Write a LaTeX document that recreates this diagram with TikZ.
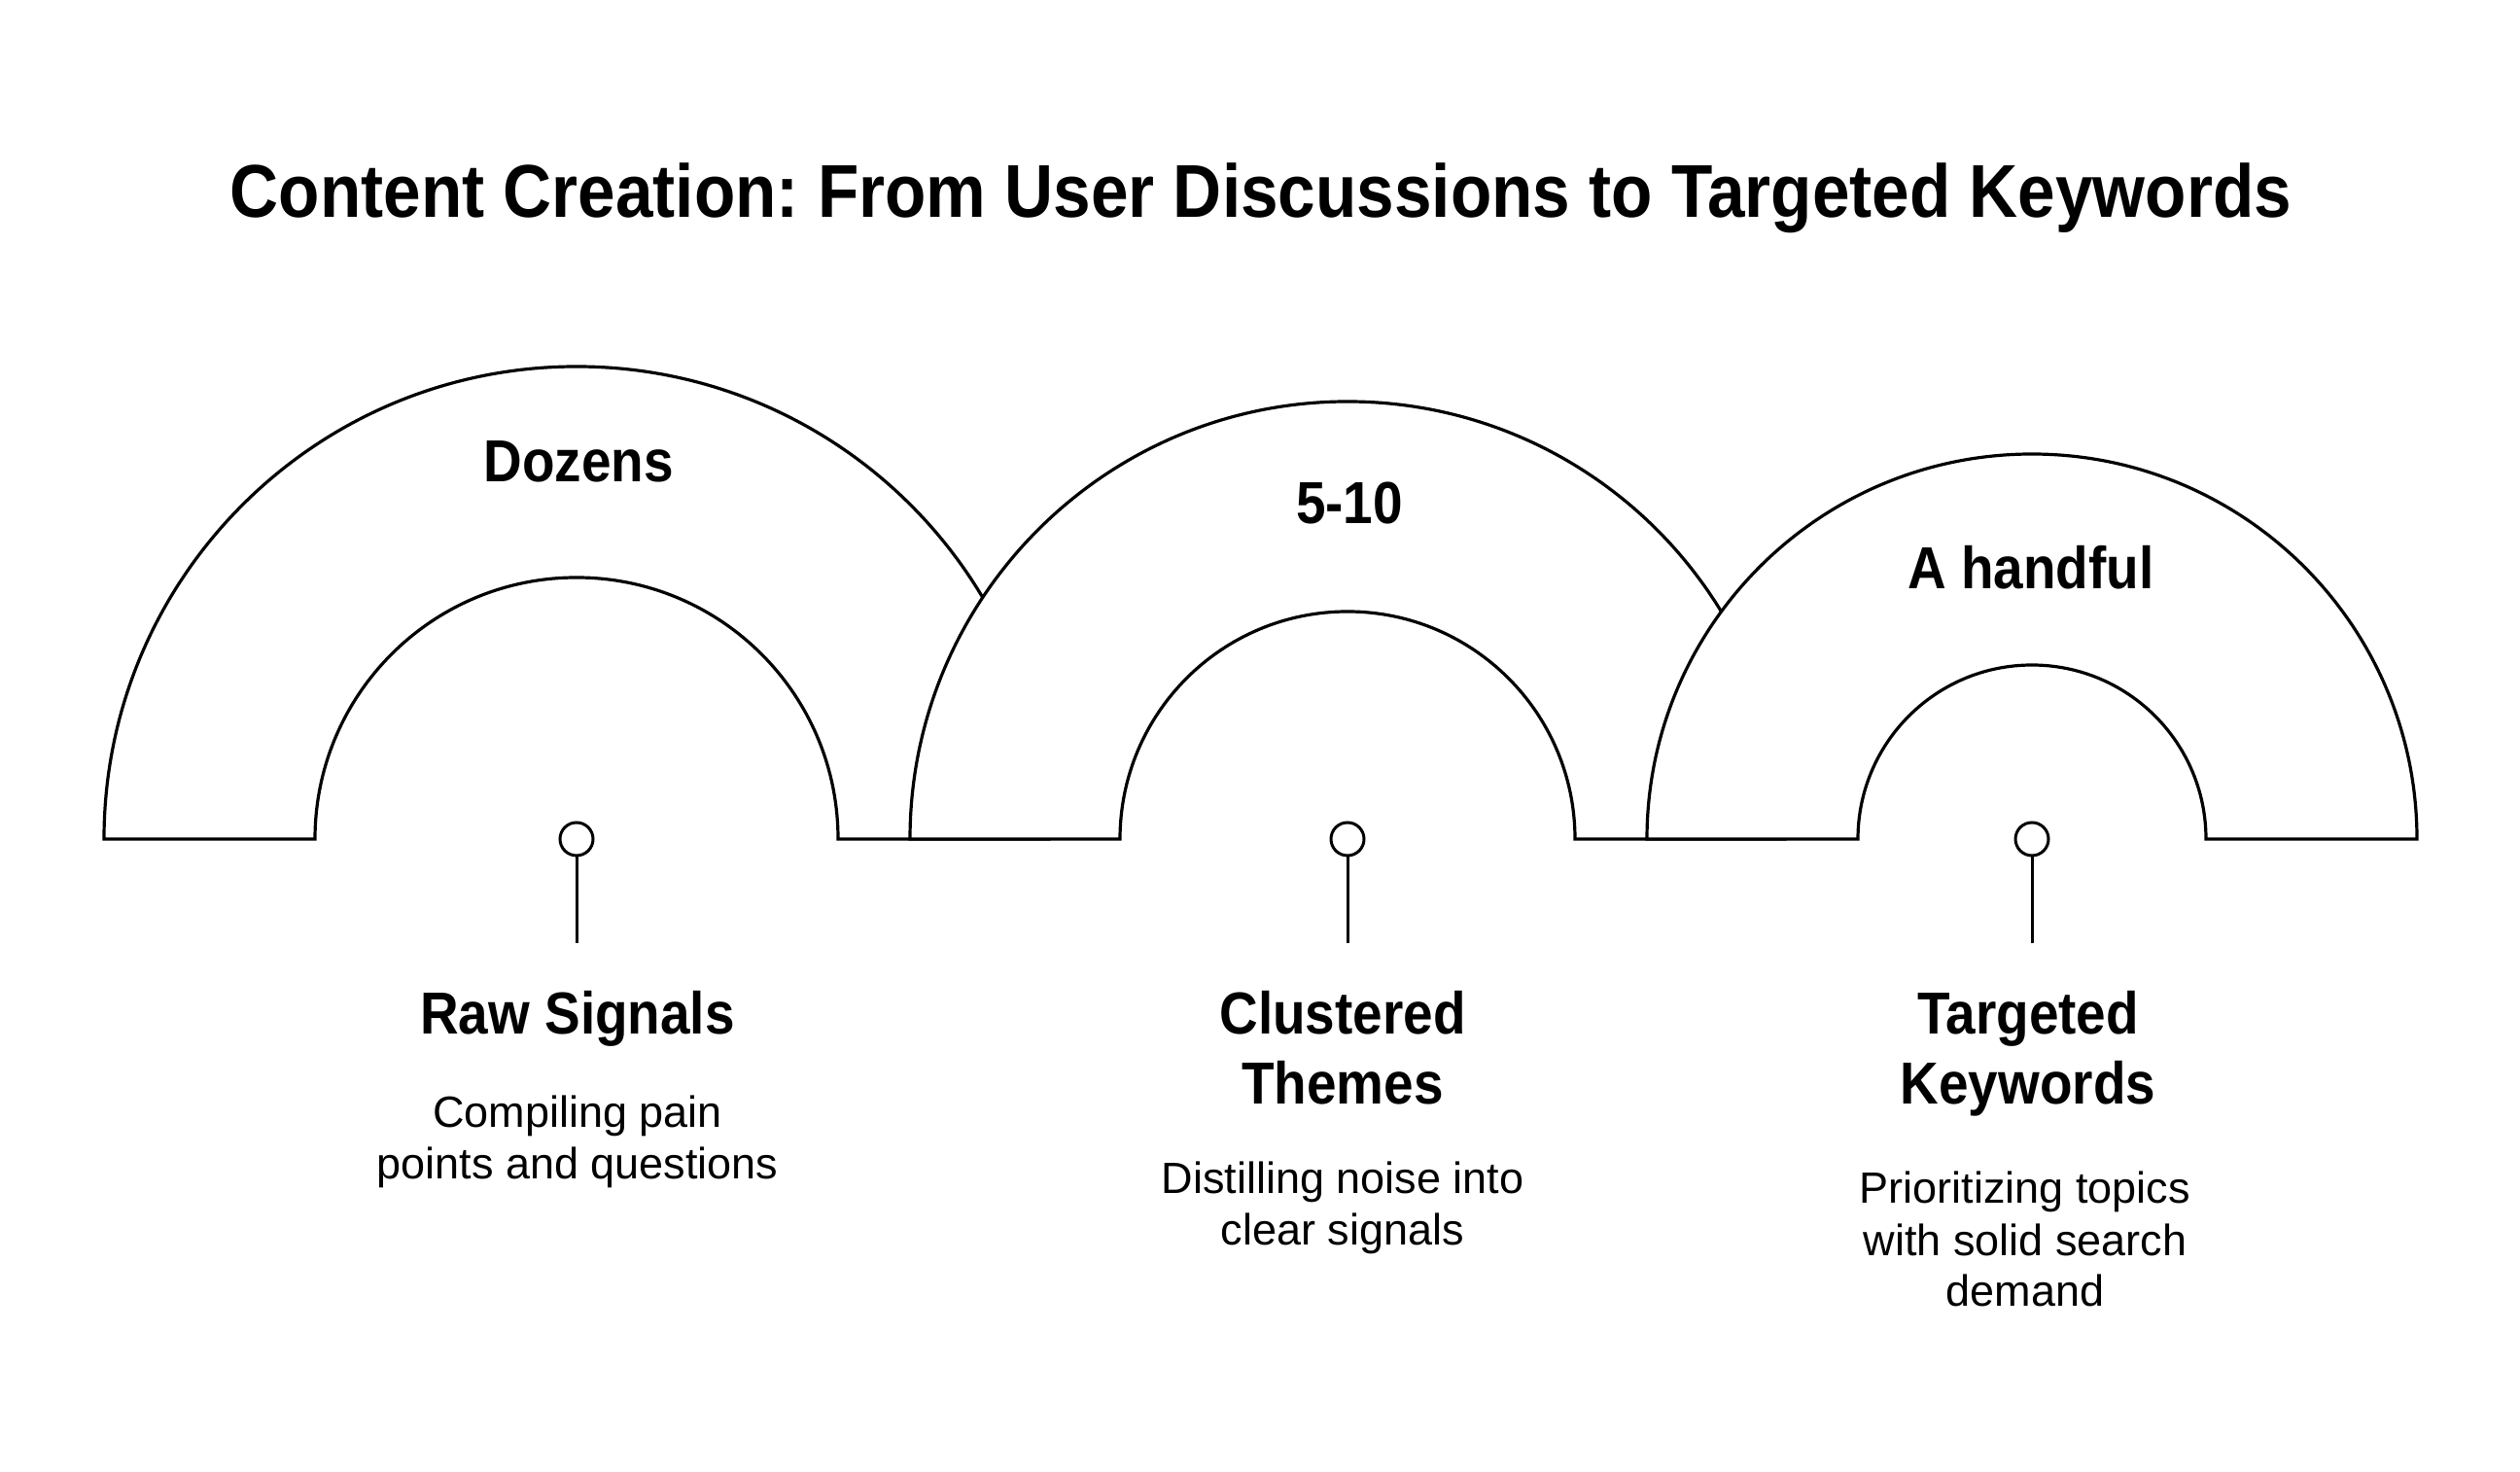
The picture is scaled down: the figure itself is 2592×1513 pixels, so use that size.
\documentclass[tikz,border=0pt]{standalone}
\usepackage{fontspec}
\setmainfont{Liberation Sans}
\newfontfamily\condfont{Liberation Sans}[FakeStretch=0.9]
\frenchspacing
\begin{document}
\begin{tikzpicture}[x=1pt,y=1pt,
  archshape/.style={draw=black,fill=white,line width=3.2pt,line join=miter},
  marker/.style={circle,draw=black,fill=white,line width=3pt,minimum size=34pt,inner sep=0pt},
  stem/.style={draw=black,line width=3pt},
  titletext/.style={anchor=base,inner sep=0pt,font=\condfont\bfseries\fontsize{77}{90}\selectfont},
  headtext/.style={anchor=base,inner sep=0pt,font=\condfont\bfseries\fontsize{61}{72}\selectfont},
  bodytext/.style={anchor=base,inner sep=0pt,font=\fontsize{45}{53}\selectfont}]
\useasboundingbox[fill=white] (0,0) rectangle (2592,1513);

% arches (baseline at y=650)
\draw[archshape] (107,650) arc (180:0:486) -- (862,650) arc (0:180:269) -- cycle;
\draw[archshape] (936,650) arc (180:0:450) -- (1620,650) arc (0:180:234) -- cycle;
\draw[archshape] (1694,650) arc (180:0:396) -- (2269,650) arc (0:180:179) -- cycle;

% title
\node[titletext] (title) at (1297,1289) {\frenchspacing Content Creation: From User Discussions to Targeted Keywords};

% arch labels
\node[headtext] (q1) at (595,1017) {Dozens};
\node[headtext] (q2) at (1388,974) {5-10};
\node[headtext] (q3) at (2089,907) {A handful};

% markers and stems
\node[marker] (m1) at (593,650) {};
\node[marker] (m2) at (1386,650) {};
\node[marker] (m3) at (2090,650) {};
\coordinate (e1) at (593,543);
\coordinate (e2) at (1386,543);
\coordinate (e3) at (2090,543);
\draw[stem] (m1.south) -- (e1);
\draw[stem] (m2.south) -- (e2);
\draw[stem] (m3.south) -- (e3);

% stage 1
\node[headtext] (h1) at (594,449) {Raw Signals};
\node[bodytext] (b1a) at (594,353) {Compiling pain};
\node[bodytext] (b1b) at (594,300) {points and questions};

% stage 2
\node[headtext] (h2a) at (1381,449) {Clustered};
\node[headtext] (h2b) at (1381,377) {Themes};
\node[bodytext] (b2a) at (1381,285) {Distilling noise into};
\node[bodytext] (b2b) at (1381,232) {clear signals};

% stage 3
\node[headtext] (h3a) at (2086,449) {Targeted};
\node[headtext] (h3b) at (2086,377) {Keywords};
\node[bodytext] (b3a) at (2083,275) {Prioritizing topics};
\node[bodytext] (b3b) at (2083,221) {with solid search};
\node[bodytext] (b3c) at (2083,169) {demand};
\end{tikzpicture}
\end{document}
